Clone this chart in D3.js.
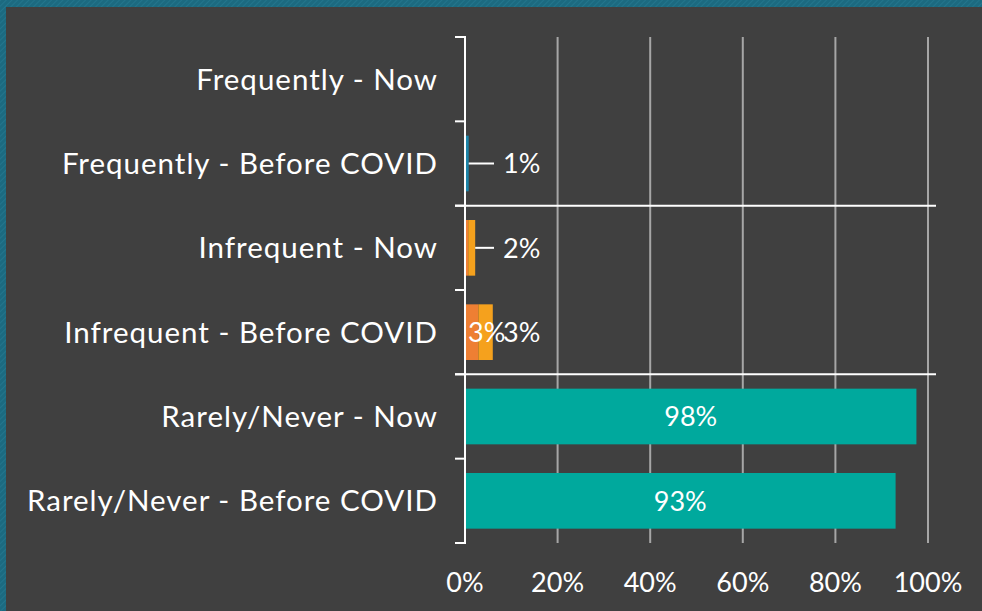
<!DOCTYPE html>
<html>
<head>
<meta charset="utf-8">
<script src="https://cdn.jsdelivr.net/npm/d3@7"></script>
<style>
  html, body { margin: 0; padding: 0; background: #1c6a80; }
  svg { display: block; }
</style>
</head>
<body>
<div id="chart"></div>
<script>
// ── Data ─────────────────────────────────────────────────────
const CATEGORIES = [
  'Frequently - Now',
  'Frequently - Before COVID',
  'Infrequent - Now',
  'Infrequent - Before COVID',
  'Rarely/Never - Now',
  'Rarely/Never - Before COVID',
];

// share of respondents, one value per category (stacked left to right)
const FREQUENT     = [0, 0.008, 0,     0,     0,     0];
const INFREQUENT_A = [0, 0,     0.007, 0.029, 0,     0];
const INFREQUENT_B = [0, 0,     0.015, 0.031, 0,     0];
const RARELY       = [0, 0,     0,     0,     0.975, 0.93];

// data label text shown for each segment ('' = no label)
const FREQUENT_LABELS     = ['', '1%', '', '', '', ''];
const INFREQUENT_A_LABELS = ['', '', '', '3%', '', ''];
const INFREQUENT_B_LABELS = ['', '', '2%', '3%', '', ''];
const RARELY_LABELS       = ['', '', '', '', '98%', '93%'];

const X_TICKS = [0, 0.2, 0.4, 0.6, 0.8, 1];
const GROUP_BREAKS = [2, 4];   // category index where a new group starts

const SERIES = [
  { key: 'frequent',    values: FREQUENT,     labels: FREQUENT_LABELS,     color: '#1b84a8' },
  { key: 'infrequentA', values: INFREQUENT_A, labels: INFREQUENT_A_LABELS, color: '#ee7f33' },
  { key: 'infrequentB', values: INFREQUENT_B, labels: INFREQUENT_B_LABELS, color: '#f5a11d' },
  { key: 'rarely',      values: RARELY,       labels: RARELY_LABELS,       color: '#00a99d' },
];

// ── Layout ───────────────────────────────────────────────────
const width  = 982;
const height = 611;
const margin = { top: 37, right: 54, bottom: 68, left: 465 };
const FONT = 'Lato, "Open Sans", sans-serif';

const svg = d3.select('#chart').append('svg')
  .attr('width', width)
  .attr('height', height);

// hatched teal frame + dark panel
const defs = svg.append('defs');
const pat = defs.append('pattern')
  .attr('id', 'hatch')
  .attr('width', 4).attr('height', 4)
  .attr('patternUnits', 'userSpaceOnUse')
  .attr('patternTransform', 'rotate(45)');
pat.append('rect').attr('width', 4).attr('height', 4).attr('fill', '#1c6a80');
pat.append('rect').attr('width', 1).attr('height', 4).attr('fill', '#23758c');

svg.append('rect').attr('width', width).attr('height', height).attr('fill', 'url(#hatch)');
svg.append('rect')
  .attr('x', 6).attr('y', 7)
  .attr('width', width - 6).attr('height', height - 7)
  .attr('fill', '#404040');

const x = d3.scaleLinear()
  .domain([0, 1])
  .range([margin.left, width - margin.right]);

const y = d3.scaleBand()
  .domain(CATEGORIES)
  .range([margin.top, height - margin.bottom])
  .paddingInner(0.34)
  .paddingOuter(0.17);

const yTop = margin.top;
const yBottom = height - margin.bottom;

// ── Gridlines ────────────────────────────────────────────────
svg.append('g')
  .selectAll('line')
  .data(X_TICKS.filter(t => t > 0))
  .join('line')
  .attr('x1', d => x(d)).attr('x2', d => x(d))
  .attr('y1', yTop).attr('y2', yBottom)
  .attr('stroke', '#a6a6a6')
  .attr('stroke-width', 2);

// ── Stacked bars ─────────────────────────────────────────────
const rows = CATEGORIES.map((c, i) => {
  const row = { category: c };
  SERIES.forEach(s => { row[s.key] = s.values[i]; });
  return row;
});
const stacked = d3.stack().keys(SERIES.map(s => s.key))(rows);

const layers = svg.append('g')
  .selectAll('g')
  .data(stacked)
  .join('g')
  .attr('fill', (d, i) => SERIES[i].color);

layers.selectAll('rect')
  .data(d => d.filter(seg => seg[1] - seg[0] > 0))
  .join('rect')
  .attr('x', d => x(d[0]))
  .attr('y', d => y(d.data.category))
  .attr('width', d => x(d[1]) - x(d[0]))
  .attr('height', y.bandwidth());

// ── Axis ─────────────────────────────────────────────────────
const step = y.step();
const boundaries = d3.range(CATEGORIES.length + 1).map(i => yTop + i * step);

const axisG = svg.append('g').attr('stroke', '#ffffff').attr('stroke-width', 2);
axisG.append('line')
  .attr('x1', x(0)).attr('x2', x(0))
  .attr('y1', yTop - 1).attr('y2', yBottom + 1);
axisG.selectAll('line.tick')
  .data(boundaries)
  .join('line')
  .attr('class', 'tick')
  .attr('x1', x(0) - 10).attr('x2', x(0))
  .attr('y1', d => d).attr('y2', d => d);
// group separators
axisG.selectAll('line.sep')
  .data(GROUP_BREAKS)
  .join('line')
  .attr('class', 'sep')
  .attr('x1', x(0) - 10).attr('x2', x(1) + 8)
  .attr('y1', i => boundaries[i]).attr('y2', i => boundaries[i]);

// category labels
svg.append('g')
  .selectAll('text')
  .data(CATEGORIES)
  .join('text')
  .attr('x', x(0) - 27)
  .attr('y', d => y(d) + y.bandwidth() / 2)
  .attr('dy', '0.36em')
  .attr('text-anchor', 'end')
  .attr('fill', '#ffffff')
  .attr('font-family', FONT)
  .attr('font-size', 29.5)
  .attr('letter-spacing', 1)
  .text(d => d);

// x tick labels
svg.append('g')
  .selectAll('text')
  .data(X_TICKS)
  .join('text')
  .attr('x', d => x(d))
  .attr('y', 592)
  .attr('text-anchor', 'middle')
  .attr('fill', '#ffffff')
  .attr('font-family', FONT)
  .attr('font-size', 27)
  .text(d3.format('.0%'));

// ── Data labels ──────────────────────────────────────────────
const labelG = svg.append('g')
  .attr('font-family', FONT)
  .attr('font-size', 27)
  .attr('fill', '#ffffff');

stacked.forEach((layer, si) => {
  layer.forEach((seg, ci) => {
    const text = SERIES[si].labels[ci];
    if (!text) return;
    const x0 = x(seg[0]);
    const x1 = x(seg[1]);
    const cy = y(seg.data.category) + y.bandwidth() / 2;
    const segW = x1 - x0;
    const nextStart = si < stacked.length - 1 ? stacked[si + 1][ci][1] - stacked[si + 1][ci][0] : 0;

    if (segW > 60) {
      // wide segment: centred inside
      labelG.append('text')
        .attr('x', (x0 + x1) / 2).attr('y', cy).attr('dy', '0.36em')
        .attr('text-anchor', 'middle')
        .text(text);
    } else if (nextStart > 0) {
      // narrow segment followed by another: inside base
      labelG.append('text')
        .attr('x', x0 + 3).attr('y', cy).attr('dy', '0.36em')
        .text(text);
    } else {
      // outside end, pushed clear of the axis with a leader line
      const lx = Math.max(x1 + 9, x(0) + 38);
      if (lx - x1 > 15) {
        svg.append('line')
          .attr('x1', x1).attr('x2', lx - 9)
          .attr('y1', cy).attr('y2', cy)
          .attr('stroke', '#ffffff').attr('stroke-width', 2);
      }
      labelG.append('text')
        .attr('x', lx).attr('y', cy).attr('dy', '0.36em')
        .text(text);
    }
  });
});
</script>
</body>
</html>
